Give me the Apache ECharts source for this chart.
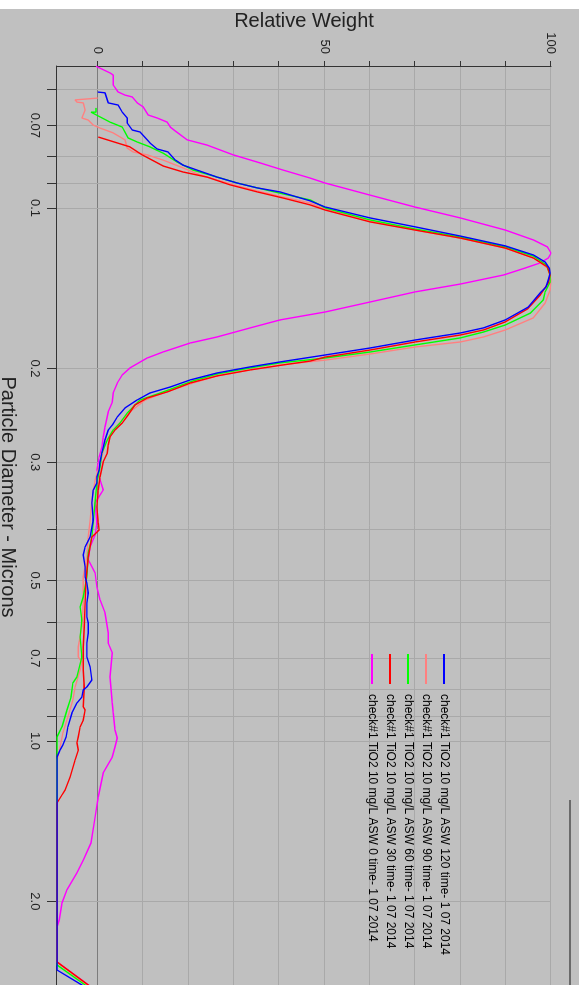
<!DOCTYPE html>
<html>
<head>
<meta charset="utf-8">
<script src="https://cdn.jsdelivr.net/npm/echarts@6/dist/echarts.min.js"></script>
<style>
html,body{margin:0;padding:0;background:#c0c0c0;overflow:hidden;width:579px;height:985px;}
#chart{position:absolute;left:0;top:0;width:985px;height:579px;transform-origin:0 0;transform:translate(579px,0) rotate(90deg);}
</style>
</head>
<body>
<div id="chart"></div>
<script>
// Tick and label values
const diameterTicks = [0.06,0.07,0.08,0.09,0.1,0.2,0.3,0.4,0.5,0.6,0.7,0.8,0.9,1.0,2.0];
const diameterLabels = [0.07,0.1,0.2,0.3,0.5,0.7,1.0,2.0];
const weightTicks = [0,10,20,30,40,50,60,70,80,90,100];
const weightLabels = [0,50,100];

const seriesNames = [
  'check#1 TiO2 10 mg/L ASW 120 time- 1 07 2014',
  'check#1 TiO2 10 mg/L ASW 90 time- 1 07 2014',
  'check#1 TiO2 10 mg/L ASW 60 time- 1 07 2014',
  'check#1 TiO2 10 mg/L ASW 30 time- 1 07 2014',
  'check#1 TiO2 10 mg/L ASW 0 time- 1 07 2014'
];

// [diameter (microns), relative weight]
const asw120 = [[0.0606,0],[0.0608,1.6],[0.0635,2.3],[0.0641,4.5],[0.0661,5.4],[0.0678,6.5],[0.0693,6.5],[0.0714,7.6],[0.0720,9.3],[0.0745,10.9],[0.0755,11.5],[0.0775,13.1],[0.0785,15.5],[0.0813,17.1],[0.0831,18.8],[0.0849,21.9],[0.0875,26.3],[0.0898,30.8],[0.0917,35.2],[0.0933,40.2],[0.0970,46.9],[0.0996,50.2],[0.1044,60.1],[0.1085,70.0],[0.1129,80.0],[0.1178,89.9],[0.1225,96.1],[0.1263,98.7],[0.1296,99.6],[0.1324,99.8],[0.1365,99.4],[0.1407,98.9],[0.1444,97.6],[0.1534,95.0],[0.1622,89.9],[0.1679,85.1],[0.1716,80.0],[0.1769,70.0],[0.1831,60.1],[0.1887,50.2],[0.1945,40.2],[0.1987,33.6],[0.2040,26.3],[0.2102,20.4],[0.2167,16.0],[0.2224,11.5],[0.2292,8.7],[0.2373,6.0],[0.2467,4.3],[0.2554,3.2],[0.2610,2.3],[0.2724,1.6],[0.2882,0.9],[0.2996,0.5],[0.3101,0.3],[0.3196,-0.2],[0.3280,-0.2],[0.3381,-1.0],[0.3576,-1.3],[0.3849,-1.0],[0.4142,-1.7],[0.4325,-2.8],[0.4478,-3.2],[0.4716,-2.8],[0.4924,-2.8],[0.5053,-2.4],[0.5276,-2.1],[0.5509,-2.4],[0.5852,-2.4],[0.6006,-2.1],[0.6271,-2.1],[0.6548,-2.4],[0.6957,-2.4],[0.7265,-1.7],[0.7684,-1.3],[0.7920,-2.4],[0.8024,-3.2],[0.8269,-3.5],[0.8487,-4.6],[0.8860,-5.7],[0.9412,-6.6],[0.9829,-7.0],[1.0174,-7.7],[1.0396,-8.3],[1.0715,-9],[2.690,-9],[2.870,-3.5],[3.197,5.7]];

const asw90 = [[0.0622,0],[0.0627,-5.0],[0.0633,-4.6],[0.0635,-3.2],[0.0655,-2.8],[0.0678,-3.5],[0.0684,-2.1],[0.0699,-1.0],[0.0708,0.5],[0.0723,3.4],[0.0745,6.0],[0.0772,6.5],[0.0785,7.8],[0.0795,10.9],[0.0813,14.4],[0.0841,18.8],[0.0867,22.6],[0.0886,26.3],[0.0909,30.8],[0.0929,35.2],[0.0954,40.9],[0.0979,46.9],[0.1004,50.2],[0.1058,60.1],[0.1100,70.0],[0.1139,80.0],[0.1189,89.9],[0.1241,96.1],[0.1296,99.2],[0.1365,100],[0.1425,99.8],[0.1508,98.7],[0.1608,96.1],[0.1694,89.9],[0.1746,85.1],[0.1784,80.0],[0.1823,70.0],[0.1879,60.1],[0.1929,50.2],[0.1970,40.2],[0.2013,33.6],[0.2066,26.3],[0.2130,21.0],[0.2224,14.4],[0.2292,10.5],[0.2393,7.6],[0.2498,5.4],[0.2610,3.4],[0.2760,1.6],[0.2932,0.9],[0.3101,0.1],[0.3238,-0.6],[0.3530,-1.3],[0.3849,-1.7],[0.4142,-2.1],[0.4517,-2.4],[0.4924,-3.2],[0.5509,-3.2],[0.6111,-3.5],[0.6663,-4.3],[0.6957,-4.3],[0.7110,-3.5],[0.7359,-3.9],[0.7920,-5.0],[0.8377,-5.5],[0.9015,-6.6],[0.9660,-7.7],[1.0263,-8.3],[1.0855,-9],[2.598,-9],[2.870,-2.4],[3.197,5.5]];

const asw60 = [[0.0649,-0.4],[0.0661,-0.4],[0.0661,-1.5],[0.0663,-1.5],[0.0672,0.1],[0.0690,2.7],[0.0705,5.4],[0.0720,6.0],[0.0739,6.7],[0.0752,8.7],[0.0768,11.5],[0.0789,14.4],[0.0820,17.5],[0.0849,21.0],[0.0875,26.3],[0.0898,30.8],[0.0917,35.2],[0.0941,40.9],[0.0966,46.9],[0.1000,50.2],[0.1053,60.1],[0.1095,70.0],[0.1134,80.0],[0.1183,89.9],[0.1231,96.1],[0.1279,99.0],[0.1336,99.8],[0.1377,99.8],[0.1437,98.7],[0.1488,98.3],[0.1574,95.5],[0.1658,89.9],[0.1709,85.1],[0.1753,80.0],[0.1807,70.0],[0.1863,60.1],[0.1912,50.2],[0.1953,40.2],[0.1996,33.6],[0.2049,26.3],[0.2111,21.0],[0.2224,13.8],[0.2292,9.3],[0.2425,6.5],[0.2532,4.9],[0.2610,3.4],[0.2724,2.1],[0.2882,0.9],[0.3061,0.5],[0.3280,-0.2],[0.3576,-0.6],[0.4142,-1.3],[0.4439,-2.1],[0.4924,-2.4],[0.5368,-3.2],[0.5605,-3.9],[0.5929,-3.5],[0.6381,-3.9],[0.6957,-3.5],[0.7585,-4.6],[0.7784,-5.5],[0.8269,-5.9],[0.8746,-6.8],[0.9412,-7.9],[0.9829,-9],[2.632,-9],[2.870,-2.8],[3.197,6.0]];

const asw30 = [[0.0736,0.1],[0.0755,4.3],[0.0768,7.1],[0.0795,9.8],[0.0809,11.5],[0.0834,14.4],[0.0856,18.8],[0.0875,24.1],[0.0905,29.2],[0.0933,35.2],[0.0958,40.9],[0.0987,46.9],[0.1009,50.2],[0.1062,60.1],[0.1100,70.0],[0.1139,80.0],[0.1189,89.9],[0.1241,96.1],[0.1290,99.2],[0.1336,99.8],[0.1383,99.4],[0.1457,97.6],[0.1547,94.8],[0.1636,89.9],[0.1694,85.1],[0.1731,80.0],[0.1784,70.0],[0.1847,60.1],[0.1904,50.2],[0.1937,46.9],[0.1970,40.9],[0.2013,33.6],[0.2066,26.3],[0.2130,20.4],[0.2214,15.3],[0.2273,10.9],[0.2342,8.2],[0.2446,6.7],[0.2532,5.4],[0.2610,3.8],[0.2689,2.7],[0.2784,2.3],[0.2882,2.1],[0.2996,1.2],[0.3196,0.5],[0.3381,0.1],[0.3639,-0.2],[0.3899,0.1],[0.4018,0.3],[0.4142,-1.3],[0.4517,-2.1],[0.4988,-2.6],[0.5509,-2.8],[0.6111,-3.0],[0.6663,-3.2],[0.7359,-3.2],[0.7920,-3.0],[0.8634,-3.2],[0.8746,-2.8],[0.9133,-3.2],[0.9412,-3.9],[0.9829,-4.3],[1.0087,-4.6],[1.0396,-4.3],[1.0855,-5.0],[1.1683,-6.1],[1.2357,-7.2],[1.2626,-7.9],[1.3071,-9],[2.598,-9],[2.870,-2.1],[3.197,5.3]];

const asw0 = [[0.0542,-0.4],[0.0558,2.7],[0.0563,3.4],[0.0588,3.4],[0.0606,4.5],[0.0614,6.0],[0.0619,7.6],[0.0635,8.7],[0.0646,10.0],[0.0669,11.1],[0.0678,13.1],[0.0690,15.3],[0.0705,16.0],[0.0717,17.1],[0.0745,19.7],[0.0762,24.1],[0.0795,29.9],[0.0823,35.8],[0.0849,40.9],[0.0879,46.9],[0.0898,50.2],[0.0946,60.1],[0.0996,70.0],[0.1044,80.0],[0.1100,89.9],[0.1148,96.1],[0.1183,99.2],[0.1215,100],[0.1241,99.4],[0.1268,97.6],[0.1296,94.3],[0.1336,89.5],[0.1389,80.0],[0.1437,70.0],[0.1501,60.1],[0.1567,50.2],[0.1622,40.2],[0.1679,33.6],[0.1746,26.3],[0.1792,20.4],[0.1863,14.4],[0.1912,10.9],[0.1996,7.1],[0.2057,5.4],[0.2130,4.3],[0.2224,3.4],[0.2312,3.2],[0.2414,2.3],[0.2576,1.6],[0.2689,1.2],[0.2808,0.9],[0.2932,0.3],[0.3101,-0.2],[0.3238,0.5],[0.3381,1.2],[0.3454,0.5],[0.3576,-0.6],[0.3899,-0.2],[0.4106,-0.6],[0.4325,-1.7],[0.4575,-2.1],[0.4840,-0.6],[0.5141,-0.2],[0.5438,0.5],[0.5752,1.6],[0.6271,2.3],[0.6548,2.3],[0.6838,3.2],[0.7585,2.7],[0.8487,3.2],[0.8860,3.4],[0.9537,3.8],[0.9871,4.3],[1.0263,3.8],[1.0715,3.2],[1.1482,1.2],[1.2736,0.1],[1.3888,-0.6],[1.5537,-1.5],[1.6722,-3.2],[1.7686,-4.6],[1.9034,-6.8],[2.0135,-7.9],[2.1672,-8.5],[2.2336,-9],[2.598,-9],[2.870,-2.1],[3.197,5.3]];

const FONT = '"Liberation Sans", Arial, Helvetica, sans-serif';
const chart = echarts.init(document.getElementById('chart'), null, {renderer: 'canvas'});

function fmtDiameter(v) {
  const r = Math.round(v * 100) / 100;
  return r >= 1 ? r.toFixed(1) : String(r);
}

function lineSeries(name, data, color) {
  return {
    name: name, type: 'line', data: data, symbol: 'none', showSymbol: false,
    lineStyle: {color: color, width: 1.4}, itemStyle: {color: color},
    clip: true, silent: true, animation: false
  };
}

const zeroLineColors = weightTicks.map(function (v) { return v === 0 ? '#7c7c7c' : '#a9a9a9'; });

chart.setOption({
  backgroundColor: '#c0c0c0',
  animation: false,
  textStyle: {fontFamily: FONT},
  grid: {left: 66, right: 0, top: 28, bottom: 57, containLabel: false, outerBoundsMode: 'none'},
  xAxis: {
    type: 'log', logBase: 10, min: 0.05415, max: 2.87,
    position: 'bottom',
    axisLine: {show: true, onZero: false, lineStyle: {color: '#333333', width: 1}},
    axisTick: {show: true, customValues: diameterTicks, length: 10, lineStyle: {color: '#333333', width: 1}},
    axisLabel: {customValues: diameterLabels, formatter: fmtDiameter, margin: 16, fontSize: 13, color: '#222222', fontFamily: FONT},
    splitLine: {show: true, lineStyle: {color: '#a9a9a9', width: 1}},
    minorTick: {show: false}, minorSplitLine: {show: false}
  },
  yAxis: {
    type: 'value', min: -9, max: 100,
    position: 'left',
    name: 'Relative Weight', nameLocation: 'middle', nameGap: 35, nameMoveOverlap: false,
    nameTextStyle: {fontSize: 20, color: '#222222', fontFamily: FONT},
    axisLine: {show: true, onZero: false, lineStyle: {color: '#333333', width: 1}},
    axisTick: {show: true, customValues: weightTicks, length: 5, lineStyle: {color: '#333333', width: 1}},
    axisLabel: {customValues: weightLabels, margin: 12, fontSize: 13, color: '#222222', fontFamily: FONT},
    splitLine: {show: true, lineStyle: {color: zeroLineColors, width: 1}}
  },
  legend: {
    orient: 'vertical', left: 653, top: 129, padding: 0,
    itemWidth: 30, itemHeight: 12, itemGap: 6,
    selectedMode: false,
    data: seriesNames,
    itemStyle: {opacity: 0, color: 'rgba(0,0,0,0)', borderWidth: 0},
    lineStyle: {width: 2},
    textStyle: {fontSize: 12, color: '#000000', fontFamily: FONT, padding: [0, 0, 0, 5]}
  },
  graphic: [
    {type: 'rect', z: -1, shape: {x: 0, y: 0, width: 9, height: 579}, style: {fill: '#ffffff'}, silent: true},
    {type: 'line', shape: {x1: 800, y1: 9, x2: 985, y2: 9}, style: {stroke: '#6a6a6a', lineWidth: 2}, silent: true},
    {type: 'text', x: 497, y: 571, style: {text: 'Particle Diameter - Microns', font: '20px ' + FONT, fill: '#222222', align: 'center', verticalAlign: 'middle'}, silent: true}
  ],
  series: [
    lineSeries(seriesNames[4], asw0, '#ff00ff'),
    lineSeries(seriesNames[1], asw90, '#ff8080'),
    lineSeries(seriesNames[2], asw60, '#00ff00'),
    lineSeries(seriesNames[3], asw30, '#ff0000'),
    lineSeries(seriesNames[0], asw120, '#0000ff')
  ]
});
</script>
</body>
</html>
